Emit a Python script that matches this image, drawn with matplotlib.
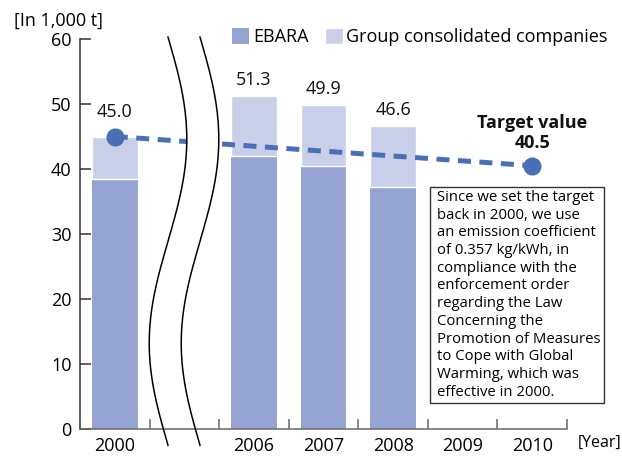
import numpy as np
import matplotlib
matplotlib.use("Agg")
import matplotlib.pyplot as plt
from matplotlib.patches import Rectangle

plt.rcParams['font.family'] = ['Open Sans', 'DejaVu Sans']

# ---- data ----
categories = ['2000', '', '2006', '2007', '2008', '2009', '2010']
ebara = [38.5, np.nan, 42.0, 40.4, 37.3, np.nan, np.nan]
totals = [45.0, np.nan, 51.3, 49.9, 46.6, np.nan, np.nan]
target_idx = [0, 6]
target_values = [45.0, 40.5]
note = ("Since we set the target\nback in 2000, we use\nan emission coefficient\n"
        "of 0.357 kg/kWh, in\ncompliance with the\nenforcement order\n"
        "regarding the Law\nConcerning the\nPromotion of Measures\n"
        "to Cope with Global\nWarming, which was\neffective in 2000.")

c_ebara = '#95a4d2'
c_group = '#c9cfe9'
c_line = '#4a6fb8'
FS = 13

W, H = 622, 458
fig = plt.figure(figsize=(W / 100, H / 100), dpi=100)
ax = fig.add_axes([80 / W, 29 / H, (567 - 80) / W, (429 - 39) / H])

x = np.arange(len(categories))
ebara_a = np.array(ebara)
group_a = np.array(totals) - ebara_a

b1 = ax.bar(x, ebara_a, width=0.66, color=c_ebara, label='EBARA', zorder=2)
b2 = ax.bar(x, group_a, bottom=ebara_a, width=0.66, color=c_group,
            edgecolor='white', linewidth=1.0, label='Group consolidated companies', zorder=2)

ax.set_xlim(-0.5, len(categories) - 0.5)
ax.set_ylim(0, 60)

# value labels
for i, t in enumerate(totals):
    if np.isnan(t):
        continue
    off = 11 if i == 0 else 5
    ax.annotate(f'{t:.1f}', (x[i], t), xytext=(0, off), textcoords='offset points',
                ha='center', va='bottom', fontsize=FS, color='#111111', zorder=6)

# target line
ax.plot([x[i] for i in target_idx], target_values, color=c_line, lw=3.6,
        dashes=(2.6, 1.7), solid_capstyle='butt', dash_capstyle='butt', zorder=3)
ax.plot([x[i] for i in target_idx], target_values, 'o', color=c_line, ms=12, zorder=4)

ax.annotate(f'{target_values[1]:.1f}', (x[6], target_values[1]), xytext=(0, 10),
            textcoords='offset points', ha='center', va='bottom', fontsize=FS,
            fontweight='bold', color='#111111')
ax.annotate('Target value', (x[6], target_values[1]), xytext=(0, 24),
            textcoords='offset points', ha='center', va='bottom', fontsize=FS,
            fontweight='bold', color='#111111')

# axis break (wavy lines)
yy = np.linspace(60.3, -2.5, 200)
phase = (60.3 - yy) / (60.3 + 2.5) * 2 * np.pi
x_left = 0.765 + 0.27 * np.sin(phase)
x_right = x_left + 0.46
ax.fill_betweenx(yy, x_left, x_right, where=(yy > 1) & (yy < 59),
                 color='white', zorder=4.5, lw=0)
ax.plot(x_left, yy, color='black', lw=1.1, clip_on=False, zorder=5)
ax.plot(x_right, yy, color='black', lw=1.1, clip_on=False, zorder=5)

# axes styling
for s in ['top', 'right']:
    ax.spines[s].set_visible(False)
ax.spines['left'].set_color('#333333')
ax.spines['bottom'].set_color('#666666')
for s in ['left', 'bottom']:
    ax.spines[s].set_linewidth(1.1)
ax.set_yticks(range(0, 61, 10))
ax.tick_params(axis='y', direction='in', length=8, width=1.1, color='#333333',
               labelsize=FS, pad=6)
ax.set_xticks([i for i, c in enumerate(categories) if c])
ax.set_xticklabels([c for c in categories if c])
ax.set_xticks(np.arange(0.5, len(categories), 1.0), minor=True)
ax.tick_params(axis='x', which='major', length=0, labelsize=FS, pad=6)
ax.tick_params(axis='x', which='minor', direction='in', length=7, width=1.1, color='#666666')

# legend
ax.legend(handles=[b1, b2], loc='upper left', bbox_to_anchor=(232 / W, 1 - 28 / H),
          bbox_transform=fig.transFigure, ncol=2, frameon=False, fontsize=FS,
          handlelength=0.95, handleheight=0.95, handletextpad=0.2, columnspacing=0.95,
          borderaxespad=0, borderpad=0)

# unit labels
fig.text(14 / W, 1 - 21 / H, '[In 1,000 t]', fontsize=FS, ha='left', va='center')
fig.text(578 / W, 1 - 443 / H, '[Year]', fontsize=11.5, ha='left', va='center')

# note box
fig.patches.append(Rectangle((430 / W, 1 - 403 / H), (604 - 430) / W, (403 - 187) / H,
                             transform=fig.transFigure, facecolor='white',
                             edgecolor='#333333', lw=1.0, zorder=6))
fig.text(437 / W, 1 - 190 / H, note, fontsize=10.7, ha='left', va='top',
         linespacing=1.245, zorder=7)

fig.savefig('out.png', dpi=100)
